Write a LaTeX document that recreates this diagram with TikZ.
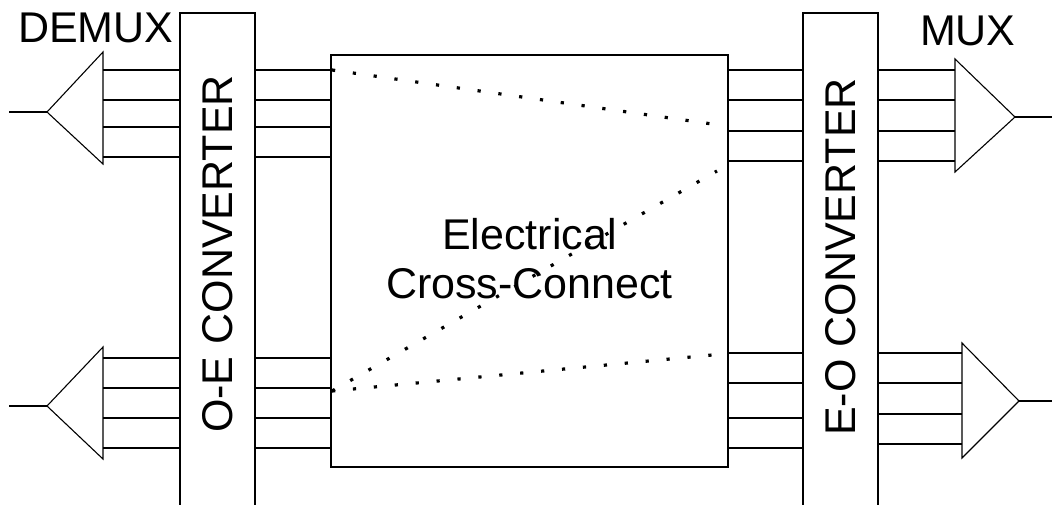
\documentclass[tikz,border=0pt]{standalone}
\usepackage{fontspec}
\setmainfont{Liberation Sans}
\begin{document}
\begin{tikzpicture}[x=1pt,y=-1pt,
  wire/.style={line width=1.1pt,line cap=butt},
  boxst/.style={draw,line width=1.1pt,inner sep=0pt,outer sep=0pt,anchor=north west},
  dots/.style={line width=3.2pt,dash pattern=on 3.2pt off 17.8pt},
  lbl/.style={inner sep=0pt,outer sep=0pt,font=\fontsize{43pt}{49pt}\selectfont}]
\useasboundingbox (0,0) rectangle (1052,504);
\fill[white] (0,0) rectangle (1052,504);
% boxes
\node[boxst,minimum width=75pt,minimum height=500pt] (oe) at (180,13) {};
\node[boxst,minimum width=397pt,minimum height=412pt] (xc) at (331,55) {};
\node[boxst,minimum width=75pt,minimum height=500pt] (eo) at (803,13) {};
% labels
\node[lbl,rotate=90] (oet) at (218,254) {O-E CONVERTER};
\node[lbl,rotate=90] (eot) at (841,257) {E-O CONVERTER};
\node[lbl,anchor=base west] (dmx) at (18,42) {DEMUX};
\node[lbl,anchor=base west] (mx) at (920,45) {MUX};
\node[lbl,align=center,anchor=center] (xct) at (529.5,259) {Electrical\\Cross-Connect};
% DEMUX triangles
\coordinate (t1a) at (47,112); \coordinate (t1u) at (103,52); \coordinate (t1d) at (103,164);
\coordinate (t1in) at (9,112);
\draw[wire] (t1u) -- (t1a) -- (t1d) -- cycle;
\draw[wire] (t1in) -- (t1a);
\coordinate (t2a) at (47,406); \coordinate (t2u) at (103,347); \coordinate (t2d) at (103,459);
\coordinate (t2in) at (9,406);
\draw[wire] (t2u) -- (t2a) -- (t2d) -- cycle;
\draw[wire] (t2in) -- (t2a);
% MUX triangles
\coordinate (t3a) at (1015,117); \coordinate (t3u) at (955,59); \coordinate (t3d) at (955,172);
\coordinate (t3out) at (1052,117);
\draw[wire] (t3u) -- (t3a) -- (t3d) -- cycle;
\draw[wire] (t3a) -- (t3out);
\coordinate (t4a) at (1019,401); \coordinate (t4u) at (962,343); \coordinate (t4d) at (962,458);
\coordinate (t4out) at (1052,401);
\draw[wire] (t4u) -- (t4a) -- (t4d) -- cycle;
\draw[wire] (t4a) -- (t4out);
% wires left
\foreach \y in {70,100,127,157} {
  \draw[wire] (t1u |- 0,\y) -- (oe.west |- 0,\y);
  \draw[wire] (oe.east |- 0,\y) -- (xc.west |- 0,\y);
}
\foreach \y in {358,388,418,448} {
  \draw[wire] (t2u |- 0,\y) -- (oe.west |- 0,\y);
  \draw[wire] (oe.east |- 0,\y) -- (xc.west |- 0,\y);
}
% wires right
\foreach \y in {70,100,131,161} {
  \draw[wire] (xc.east |- 0,\y) -- (eo.west |- 0,\y);
  \draw[wire] (eo.east |- 0,\y) -- (t3u |- 0,\y);
}
\foreach \y in {353,383,418,448} {
  \draw[wire] (xc.east |- 0,\y) -- (eo.west |- 0,\y);
}
\foreach \y in {353,383,414,444} {
  \draw[wire] (eo.east |- 0,\y) -- (t4u |- 0,\y);
}
% cross-connect paths
\coordinate (p1) at (332,70); \coordinate (q1) at (712,124);
\coordinate (p2) at (332,391); \coordinate (q2) at (717,171);
\coordinate (q3) at (712,355);
\draw[dots] (p1) -- (q1);
\draw[dots] (p2) -- (q2);
\draw[dots] (p2) -- (q3);
\end{tikzpicture}
\end{document}
